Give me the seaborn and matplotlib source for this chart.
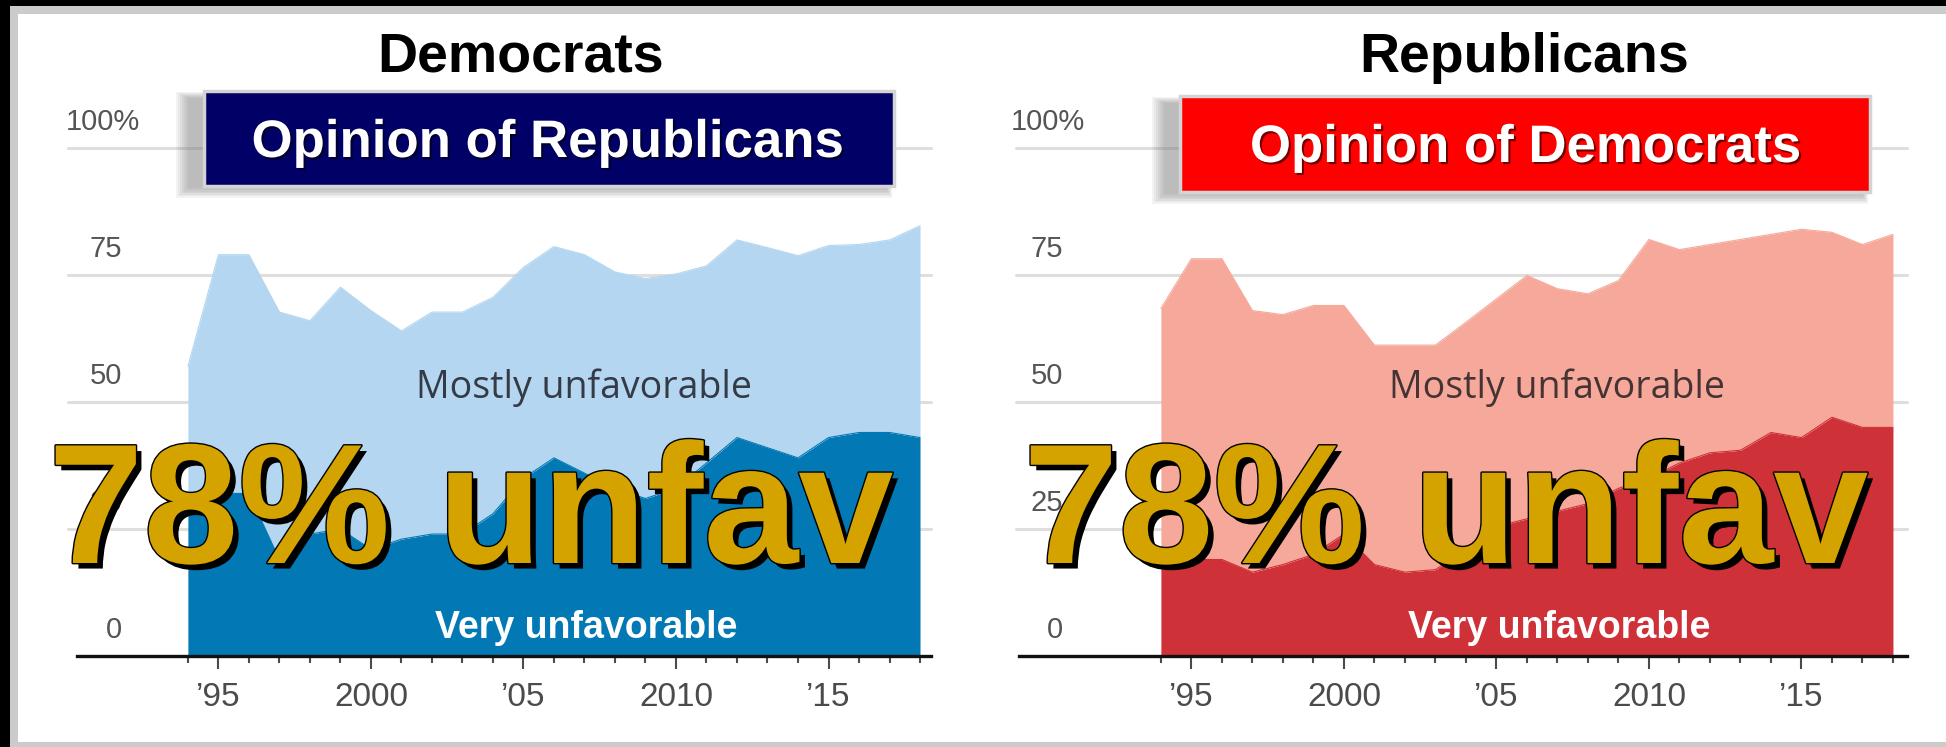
import matplotlib
matplotlib.use("Agg")
import matplotlib.pyplot as plt
import matplotlib.patheffects as pe
from matplotlib.patches import Rectangle
from matplotlib import font_manager
import seaborn as sns
import pandas as pd

# ---------------- data ----------------
years = list(range(1994, 2019))
dem_total = [57, 79, 79, 67.7, 66, 72.6, 68, 64, 67.7, 67.7,
             70.6, 76.5, 80.6, 79, 75.6, 74.3, 75.2, 76.8, 81.9, 80.4,
             78.8, 80.8, 81, 81.9, 84.7]
dem_very = [32, 32, 32, 19, 24, 25, 21, 23, 24, 24,
            28, 35, 39, 36, 33, 31, 33, 38, 43, 41,
            39, 43, 44, 44, 43]
rep_total = [68.4, 78.2, 78.2, 68, 67.2, 69, 69, 61.2, 61.2, 61.2,
             65.7, 70.3, 74.9, 72.3, 71.3, 73.9, 82, 80, 81, 82,
             83, 84, 83.4, 81, 83]
rep_very = [19, 19, 19, 16.5, 18, 20, 24, 18, 16.5, 17,
            21, 25.5, 27, 28.5, 30, 33, 35, 38, 40, 40.5,
            44, 43, 47, 45, 45]

major_years = [1995, 2000, 2005, 2010, 2015]
major_labels = ["\u201995", "2000", "\u201905", "2010", "\u201915"]
y_ticks = [0, 25, 50, 75, 100]
y_labels = ["0", "25", "50", "75", "100%"]

panel_titles = ["Democrats", "Republicans"]
box_titles = ["Opinion of Republicans", "Opinion of Democrats"]
overlay_text = "78% unfav"
label_mostly = "Mostly unfavorable"
label_very = "Very unfavorable"

df = pd.DataFrame({"year": years, "dem_total": dem_total, "dem_very": dem_very,
                   "rep_total": rep_total, "rep_very": rep_very})

# ---------------- style ----------------
sns.set_theme(style="white")
plt.rcParams["font.family"] = ["Liberation Sans", "DejaVu Sans"]
names = {f.name for f in font_manager.fontManager.ttflist}
NARROW = "Liberation Sans Narrow" if "Liberation Sans Narrow" in names else "Liberation Sans"

W, H = 1946, 747
fig = plt.figure(figsize=(W / 100, H / 100), dpi=100, facecolor="black")


def rect(x0, y0, x1, y1, **kw):
    r = Rectangle((x0 / W, 1 - y1 / H), (x1 - x0) / W, (y1 - y0) / H,
                  transform=fig.transFigure, **kw)
    fig.patches.append(r)
    return r


# frame
rect(10, 6, W, H, facecolor="#cbcbcb", edgecolor="none", zorder=-10)
rect(18, 14, W, 742, facecolor="white", edgecolor="none", zorder=-9)

panels = [
    dict(pos=(68, 931), xlim=(1990.07, 2018.36), spine_left=1990.38,
         total="dem_total", very="dem_very",
         dark="#0279b4", light="#b4d6f0", mostly_col="#353b46",
         num_x=1991.84, pct_x=1992.43,
         title_x=521, box=(204, 91, 894, 186), boxcol="#000066",
         box_text_x=547, box_text_y=157, overlay_x=471),
    dict(pos=(1016, 1907), xlim=(1989.25, 2018.46), spine_left=1989.36,
         total="rep_total", very="rep_very",
         dark="#cf3139", light="#f6a99b", mostly_col="#463434",
         num_x=1990.79, pct_x=1991.51,
         title_x=1524, box=(1180, 96, 1870, 192), boxcol="#ff0000",
         box_text_x=1525, box_text_y=162, overlay_x=1446),
]

y_bottom, y_top = 656, 148
for i, p in enumerate(panels):
    x0, x1 = p["pos"]
    ax = fig.add_axes([x0 / W, 1 - y_bottom / H, (x1 - x0) / W, (y_bottom - y_top) / H])
    ax.set_zorder(1)
    ax.set_facecolor("none")
    ax.set_xlim(*p["xlim"])
    ax.set_ylim(0, 100)

    for v in y_ticks[1:]:
        ax.axhline(v, color="#dedede", lw=2.2, zorder=0, clip_on=False)

    ax.fill_between(df["year"], 0, df[p["very"]], color=p["dark"], lw=0, zorder=2)
    ax.fill_between(df["year"], df[p["very"]], df[p["total"]], color=p["light"], lw=0, zorder=2)
    sns.lineplot(data=df, x="year", y=p["total"], ax=ax, color=p["light"], lw=0.8, zorder=2)
    sns.lineplot(data=df, x="year", y=p["very"], ax=ax, color=p["dark"], lw=0.8, zorder=2)
    ax.set_xlabel("")
    ax.set_ylabel("")

    sns.despine(ax=ax, left=True, top=True, right=True, bottom=False)
    ax.spines["bottom"].set_color("#111111")
    ax.spines["bottom"].set_linewidth(2.4)
    ax.spines["bottom"].set_bounds(p["spine_left"], p["xlim"][1])
    ax.spines["bottom"].set_zorder(5)

    ax.set_yticks([])
    ax.set_xticks(major_years)
    ax.set_xticklabels(major_labels, fontsize=24, color="#4b4b4b", family=[NARROW, "DejaVu Sans"])
    ax.set_xticks(years, minor=True)
    ax.tick_params(axis="x", which="major", direction="out", length=9.5, width=1.5,
                   color="#4b4b4b", pad=9.5, bottom=True)
    ax.tick_params(axis="x", which="minor", direction="out", length=5, width=1.5,
                   color="#4b4b4b", bottom=True)

    for v, lab in zip(y_ticks, y_labels):
        xx = p["pct_x"] if lab.endswith("%") else p["num_x"]
        ax.text(xx, v + 2.3, lab, ha="right", va="bottom", fontsize=21,
                color="#555555", family=[NARROW, "DejaVu Sans"], zorder=3, clip_on=False)

    ax.text(2007.0, 50.8, label_mostly, ha="center", va="baseline", fontsize=27,
            color=p["mostly_col"], family=["Open Sans", "DejaVu Sans"], zorder=4)
    ax.text(2007.05, 3.5, label_very, ha="center", va="baseline", fontsize=27,
            color="white", fontweight="bold", family=[NARROW, "DejaVu Sans"], zorder=4)

    # panel title
    fig.text(p["title_x"] / W, 1 - 72 / H, panel_titles[i], ha="center", va="baseline",
             fontsize=40, fontweight="bold", color="black", zorder=10)

    # header box with soft shadow
    bx0, by0, bx1, by1 = p["box"]
    for k in range(7):
        rect(bx0 - 28 + k * 2, by0 + 1 + k * 1.0, bx1 - 2 - k * 1.0, by1 + 12 - k * 1.6,
             facecolor="#7a7a7a", edgecolor="none", alpha=0.09, zorder=8)
    rect(bx0, by0, bx1, by1, facecolor=p["boxcol"], edgecolor="#d4d4d4", lw=2.5, zorder=9)
    fig.text(p["box_text_x"] / W, 1 - p["box_text_y"] / H, box_titles[i], ha="center",
             va="baseline", fontsize=38, fontweight="bold", color="white", zorder=11,
             path_effects=[pe.SimplePatchShadow(offset=(1.5, -1.5), shadow_rgbFace="black", alpha=0.55),
                           pe.Normal()])

    # big overlay text
    fig.text(p["overlay_x"] / W, 1 - 563 / H, overlay_text, ha="center", va="baseline",
             fontsize=123, fontweight="bold", color="#d4a300", zorder=20,
             path_effects=[pe.SimplePatchShadow(offset=(4, -4), shadow_rgbFace="black", alpha=1.0),
                           pe.Stroke(linewidth=2, foreground="black"),
                           pe.Normal()])

fig.savefig("out.png", dpi=100, facecolor=fig.get_facecolor())
